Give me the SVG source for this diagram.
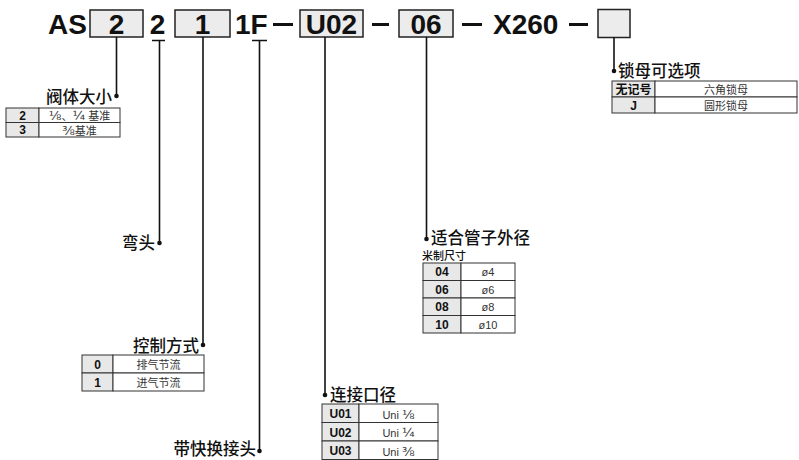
<svg xmlns="http://www.w3.org/2000/svg" width="799" height="460" viewBox="0 0 799 460">
<style>
.hd{font-family:"Liberation Sans",Arial,sans-serif;font-weight:bold;font-size:28px;fill:#111}
.box{fill:#ececec;stroke:#222;stroke-width:1.5}
.ln{stroke:#111;stroke-width:1.6;fill:none}
.dash{stroke:#111;stroke-width:3}
.ttl{font-family:"Noto Sans CJK SC","Liberation Sans",sans-serif;font-weight:500;font-size:16.5px;fill:#111}
.sub{font-family:"Noto Sans CJK SC","Liberation Sans",sans-serif;font-weight:500;font-size:11px;fill:#111}
.k{fill:#e8e8e8;stroke:#333;stroke-width:1}
.v{fill:#fff;stroke:#333;stroke-width:1}
.kt{font-family:"Liberation Sans","Noto Sans CJK SC",sans-serif;font-weight:bold;font-size:12px;fill:#111;text-anchor:middle}
.vt{font-family:"Liberation Sans","Noto Sans CJK SC",sans-serif;font-size:11px;fill:#333;text-anchor:middle}
.fr{font-family:"DejaVu Sans",sans-serif;font-size:13px}
.dot{fill:#111}
</style>

<g id="header">
  <text class="hd" x="48" y="34">AS</text>
  <rect class="box" x="90" y="10" width="53" height="27"/>
  <text class="hd" x="116.5" y="34" text-anchor="middle">2</text>
  <text class="hd" x="157.5" y="34" text-anchor="middle">2</text>
  <rect class="box" x="175" y="10" width="55" height="27"/>
  <text class="hd" x="202.5" y="34" text-anchor="middle">1</text>
  <text class="hd" x="235" y="34">1F</text>
  <line class="dash" x1="273" y1="24.5" x2="293" y2="24.5"/>
  <rect class="box" x="300" y="10" width="63" height="27"/>
  <text class="hd" x="331.5" y="34" text-anchor="middle">U02</text>
  <line class="dash" x1="372" y1="24.5" x2="389" y2="24.5"/>
  <rect class="box" x="399" y="10" width="54" height="27"/>
  <text class="hd" x="426" y="34" text-anchor="middle">06</text>
  <line class="dash" x1="462" y1="24.5" x2="482" y2="24.5"/>
  <text class="hd" x="493" y="34">X260</text>
  <line class="dash" x1="569" y1="24.5" x2="588" y2="24.5"/>
  <rect class="box" x="598" y="9.5" width="32" height="28"/>
</g>

<g id="connectors">
  <line class="ln" x1="116.5" y1="37" x2="116.5" y2="96"/>
  <circle class="dot" cx="116.5" cy="96" r="2.3"/>
  <path class="ln" d="M152,40.5 H165 M159.5,40.5 V243"/>
  <circle class="dot" cx="159.5" cy="243" r="2.3"/>
  <line class="ln" x1="203" y1="37" x2="203" y2="345"/>
  <circle class="dot" cx="203" cy="345" r="2.3"/>
  <path class="ln" d="M252,40.5 H267 M259.5,40.5 V451"/>
  <circle class="dot" cx="259.5" cy="451" r="2.3"/>
  <line class="ln" x1="325" y1="37" x2="325" y2="395"/>
  <circle class="dot" cx="325" cy="395" r="2.3"/>
  <line class="ln" x1="426.5" y1="37" x2="426.5" y2="239"/>
  <circle class="dot" cx="426.5" cy="239" r="2.3"/>
  <line class="ln" x1="614" y1="37.5" x2="614" y2="71"/>
  <circle class="dot" cx="614" cy="71" r="2.3"/>
</g>

<g id="size">
  <text class="ttl" x="112" y="103" text-anchor="end">阀体大小</text>
  <rect class="k" x="6" y="108" width="33" height="14.5"/>
  <rect class="v" x="39" y="108" width="81" height="14.5"/>
  <rect class="k" x="6" y="122.5" width="33" height="14.5"/>
  <rect class="v" x="39" y="122.5" width="81" height="14.5"/>
  <text class="kt" x="22.5" y="119.5">2</text>
  <text class="vt" x="79.5" y="120"><tspan class="fr">⅛</tspan>、<tspan class="fr">¼</tspan> 基准</text>
  <text class="kt" x="22.5" y="134">3</text>
  <text class="vt" x="79.5" y="134.5"><tspan class="fr">⅜</tspan>基准</text>
</g>

<g id="elbow">
  <text class="ttl" x="155" y="249" text-anchor="end">弯头</text>
</g>

<g id="control">
  <text class="ttl" x="199" y="352" text-anchor="end">控制方式</text>
  <rect class="k" x="82" y="355" width="31" height="18"/>
  <rect class="v" x="113" y="355" width="91" height="18"/>
  <rect class="k" x="82" y="373" width="31" height="18"/>
  <rect class="v" x="113" y="373" width="91" height="18"/>
  <text class="kt" x="97.5" y="368.5">0</text>
  <text class="vt" x="158.5" y="368.5">排气节流</text>
  <text class="kt" x="97.5" y="386.5">1</text>
  <text class="vt" x="158.5" y="386.5">进气节流</text>
</g>

<g id="quick">
  <text class="ttl" x="256" y="455" text-anchor="end">带快换接头</text>
</g>

<g id="port">
  <text class="ttl" x="330" y="401">连接口径</text>
  <rect class="k" x="322" y="404" width="37" height="18.5"/>
  <rect class="v" x="359" y="404" width="79" height="18.5"/>
  <rect class="k" x="322" y="422.5" width="37" height="18.5"/>
  <rect class="v" x="359" y="422.5" width="79" height="18.5"/>
  <rect class="k" x="322" y="441" width="37" height="18.5"/>
  <rect class="v" x="359" y="441" width="79" height="18.5"/>
  <text class="kt" x="340.5" y="418">U01</text>
  <text class="vt" x="398.5" y="418.5" font-size="12">Uni <tspan class="fr" font-size="14">⅛</tspan></text>
  <text class="kt" x="340.5" y="436.5">U02</text>
  <text class="vt" x="398.5" y="437" font-size="12">Uni <tspan class="fr" font-size="14">¼</tspan></text>
  <text class="kt" x="340.5" y="455">U03</text>
  <text class="vt" x="398.5" y="455.5" font-size="12">Uni <tspan class="fr" font-size="14">⅜</tspan></text>
</g>

<g id="tube">
  <text class="ttl" x="431" y="243.5">适合管子外径</text>
  <text class="sub" x="422" y="260">米制尺寸</text>
  <rect class="k" x="423" y="263" width="38" height="17.5"/>
  <rect class="v" x="461" y="263" width="54" height="17.5"/>
  <rect class="k" x="423" y="280.5" width="38" height="17.5"/>
  <rect class="v" x="461" y="280.5" width="54" height="17.5"/>
  <rect class="k" x="423" y="298" width="38" height="17.5"/>
  <rect class="v" x="461" y="298" width="54" height="17.5"/>
  <rect class="k" x="423" y="315.5" width="38" height="17.5"/>
  <rect class="v" x="461" y="315.5" width="54" height="17.5"/>
  <text class="kt" x="442" y="276">04</text>
  <text class="vt" x="488" y="276" font-size="12">ø4</text>
  <text class="kt" x="442" y="293.5">06</text>
  <text class="vt" x="488" y="293.5" font-size="12">ø6</text>
  <text class="kt" x="442" y="311">08</text>
  <text class="vt" x="488" y="311" font-size="12">ø8</text>
  <text class="kt" x="442" y="328.5">10</text>
  <text class="vt" x="488" y="328.5" font-size="12">ø10</text>
</g>

<g id="locknut">
  <text class="ttl" x="618" y="77">锁母可选项</text>
  <rect class="k" x="612" y="81" width="43" height="16"/>
  <rect class="v" x="655" y="81" width="142" height="16"/>
  <rect class="k" x="612" y="97" width="43" height="16"/>
  <rect class="v" x="655" y="97" width="142" height="16"/>
  <text class="kt" x="633.5" y="93.5">无记号</text>
  <text class="vt" x="726" y="93.5">六角锁母</text>
  <text class="kt" x="633.5" y="109.5">J</text>
  <text class="vt" x="726" y="109.5">圆形锁母</text>
</g>
</svg>
